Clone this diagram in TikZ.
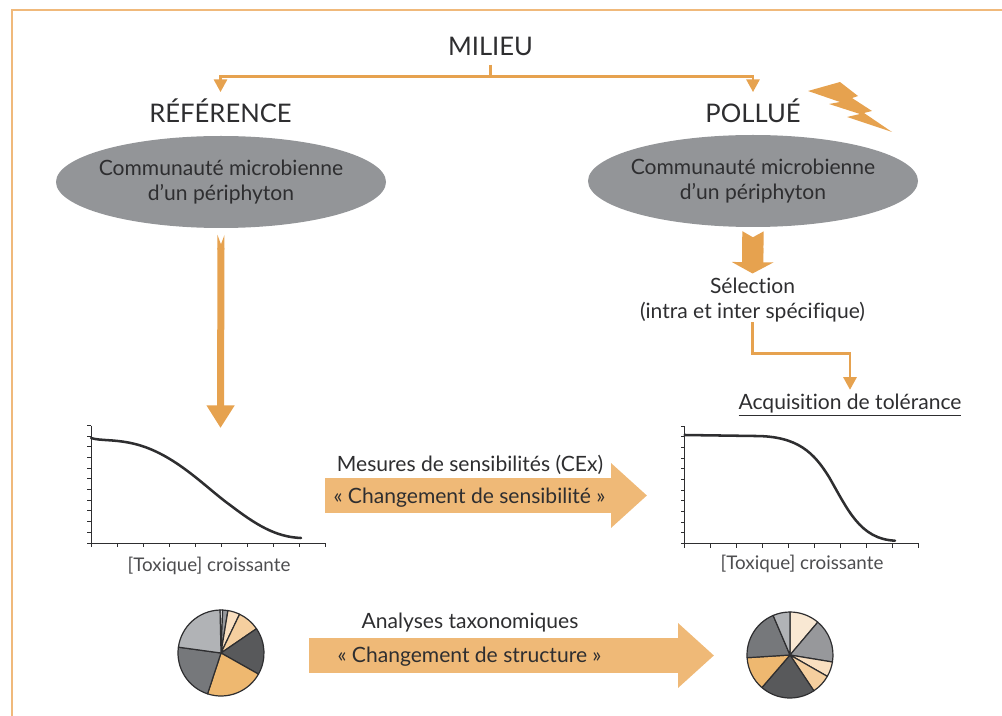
\documentclass[tikz,border=0pt]{standalone}
\usepackage{fontspec}
\setmainfont{Lato}[Ligatures=NoCommon]
\usetikzlibrary{calc, arrows.meta, shapes.geometric}
\definecolor{cadre}{HTML}{F0B97B}
\definecolor{fleche}{HTML}{E6A24F}
\definecolor{bloc}{HTML}{EFB977}
\definecolor{encre}{HTML}{2E2E30}
\definecolor{gris}{HTML}{939598}
\definecolor{grisA}{HTML}{B1B3B6}
\definecolor{grisB}{HTML}{76787B}
\definecolor{grisC}{HTML}{58595B}
\definecolor{grisD}{HTML}{97989B}
\definecolor{orangeA}{HTML}{EEB870}
\definecolor{orangeB}{HTML}{F5CF9F}
\definecolor{orangeC}{HTML}{F9DFC0}
\definecolor{orangeD}{HTML}{F9E8D3}
\tikzset{
  titre/.style={inner sep=0pt,text=encre,font=\fontsize{19.2}{22}\selectfont},
  texte/.style={inner sep=0pt,text=encre,align=center,font=\fontsize{15.8}{19}\selectfont},
  legende/.style={inner sep=0pt,text=encre!85,font=\fontsize{14.1}{17}\selectfont},
  communaute/.style={texte,ellipse,fill=gris,inner xsep=-6pt,minimum width=247.5pt,minimum height=69pt},
  filet/.style={draw=fleche,line width=2pt,-{Triangle[length=9.5pt,width=9.75pt]}},
  bigarrow/.style={draw=bloc,line width=26pt,-{Triangle[length=27pt,width=47pt]}},
  courbe/.style={line width=1.9pt,encre,line cap=round},
  axe/.style={line width=.75pt,encre},
  part/.style={draw=encre,line width=.9pt,line join=round}
}
\newcommand{\axes}[2]{%
  \draw[axe] (#1,#2) ++(0,-117.5) -- ++(0,117.5) -- ++(234,0);
  \foreach \i in {0,...,11} \draw[axe] (#1,#2) ++(0,-\i*10.68) -- ++(-4,0);
  \foreach \i in {0,...,9} \draw[axe] (#1,#2) ++(\i*26,0) -- ++(0,4);
}
\newcommand{\camembert}[2]{%
  \begin{scope}[shift={(#1)},x=.75pt,y=.75pt]
    \foreach \from/\to/\col in {#2}
      \filldraw[part,fill=\col] (0,0) -- (\from:43) arc[start angle=\from,end angle=\to,radius=43] -- cycle;
  \end{scope}
}
\begin{document}
\begin{tikzpicture}[x=.75pt,y=-.75pt]
  \useasboundingbox (0,0) rectangle (1002,716);
  \draw[cadre,line width=1.6pt] (12,716) -- (12,10) -- (1002,10);
  % titles
  \node[titre] (milieu) at (490.5,46) {MILIEU};
  \node[titre] (reference) at (220.5,111) {RÉFÉRENCE};
  \node[titre] (pollue) at (753,111) {POLLUÉ};
  \node[communaute] (refcom) at (221,182) {Communauté microbienne\\d’un périphyton};
  \node[communaute] (polcom) at (753,181) {Communauté microbienne\\d’un périphyton};
  \node[texte] (selection) at (752.5,300) {Sélection\\(intra et inter spécifique)};
  \node[texte] (acquisition) at (850,405) {\underline{Acquisition de tolérance}};
  \coordinate (refplot) at (220.5,428);
  % lightning
  \fill[fleche] (808,91) -- (840,82) -- (858,96) -- (852,98) -- (872,111) -- (864,113) -- (892,132)
    -- (847,117) -- (860,114) -- (829,104) -- (840,102) -- cycle;
  % thin arrows
  \draw[filet,shorten <=7pt,shorten >=5pt] (milieu.south) -- ++(0,21) -| (reference.north);
  \draw[filet,shorten <=7pt,shorten >=5pt] (milieu.south) -- ++(0,21) -| (pollue.north);
  \draw[filet,shorten >=3pt] (selection.south) -- ++(0,31) -| (acquisition.north);
  % thick arrows
  \draw[draw=fleche,line width=5.25pt,{Triangle Cap[reversed,length=7pt]}-{Triangle[length=17pt,width=20pt]},shorten <=5pt] (refcom.south) -- (refplot);
  \draw[draw=fleche,line width=16pt,{Triangle Cap[reversed,length=4.5pt]}-{Triangle[length=8.5pt,width=31pt]},shorten <=3pt,shorten >=3pt] (polcom.south) -- (selection.north);
  % curves
  \axes{91}{543}
  \draw[courbe] (91,438) .. controls (100,441) and (115,439) .. (135,444)
    .. controls (175,454) and (205,487) .. (230,505) .. controls (255,524) and (275,537) .. (301,538);
  \node[legende] (refaxe) at (209,566) {[Toxique] croissante};
  \axes{684.7}{543.5}
  \draw[courbe] (684.7,435) -- (755,436) .. controls (798,436) and (814,453) .. (829,477)
    .. controls (848,510) and (860,539) .. (895,540.7);
  \node[legende] (polaxe) at (802,564) {[Toxique] croissante};
  % block arrows
  \coordinate (sensfrom) at (325,495.5);
  \coordinate (sensto) at (647,495.5);
  \coordinate (strucfrom) at (309,655.5);
  \coordinate (structo) at (714,655.5);
  \draw[bigarrow] (sensfrom) -- (sensto);
  \draw[bigarrow] (strucfrom) -- (structo);
  \node[texte] (mesures) at (470,465) {Mesures de sensibilités (CEx)};
  \node[texte] (chsens) at (469.5,498) {« Changement de sensibilité »};
  \node[texte] (analyses) at (470,623) {Analyses taxonomiques};
  \node[texte] (chstruc) at (469.5,657) {« Changement de structure »};
  % pies
  \camembert{221,653}{91.3/87.8/white,87.8/80.7/grisD,80.7/64.4/orangeC,64.4/34.4/orangeB,34.4/-29.4/grisC,-29.4/-108.2/orangeA,-108.2/-187.8/grisB,172.2/91.3/grisA}
  \camembert{790,655}{90/49.8/orangeD,49.8/-9.4/grisD,-9.4/-29.8/orangeC,-29.8/-56.3/orangeB,-56.3/-130.8/grisC,-130.8/-176.4/orangeA,183.6/113.1/grisB,113.1/90/grisA}
\end{tikzpicture}
\end{document}
